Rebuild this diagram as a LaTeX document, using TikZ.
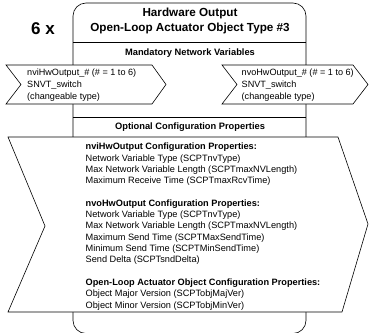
\documentclass[tikz,border=0pt]{standalone}
\usepackage{fontspec}
\setmainfont{Liberation Sans}
\usepackage{tikz}
\usetikzlibrary{shapes,arrows}
\tikzstyle{objbox} = [draw, line width=0.6pt, rounded corners=13pt]
\tikzstyle{hline} = [draw, line width=0.6pt]
\tikzstyle{nvarrow} = [draw, line width=0.6pt, fill=white]
\tikzstyle{objtitle} = [font=\fontsize{11.7}{15}\selectfont\bfseries, align=center, inner sep=0pt]
\tikzstyle{countlabel} = [font=\fontsize{17}{20}\selectfont\bfseries, inner sep=0pt]
\tikzstyle{header} = [font=\fontsize{9.3}{11}\selectfont\bfseries, inner sep=0pt]
\tikzstyle{nvtext} = [font=\fontsize{9.1}{12}\selectfont, align=left, anchor=west, inner sep=0pt]
\tikzstyle{cptext} = [font=\fontsize{9.2}{11.3}\selectfont, align=left, anchor=north west, inner sep=0pt]

\begin{document}
\begin{tikzpicture}[x=1pt, y=-1pt]
    \useasboundingbox (0,0) rectangle (369,332);
    \clip (0,0) rectangle (369,332);
    % Object frame
    \path [objbox] (73,3) rectangle (306,333.5);
    \path [hline] (73,42) -- (306,42);
    \path [hline] (73,117) -- (306,117);
    % Place nodes
    \node [countlabel] (count) at (43,28.5) {6 x};
    \node [objtitle] (title) at (190,21) {Hardware Output\\Open-Loop Actuator Object Type \#3};
    \node [header] (mandatory) at (190,53) {Mandatory Network Variables};
    \node [header] (optional) at (190,127) {Optional Configuration Properties};
    % Network variable arrows
    \path [nvarrow] (6,65) -- (152,65) -- (166,84.5) -- (152,104) -- (6,104) -- (21,84.5) -- cycle;
    \node [nvtext] (nvi) at (27,85) {nviHwOutput\_\# (\# = 1 to 6)\\SNVT\_switch\\(changeable type)};
    \path [nvarrow] (222,65) -- (353,65) -- (368,84.5) -- (353,104) -- (222,104) -- (237,84.5) -- cycle;
    \node [nvtext] (nvo) at (241.5,85) {nvoHwOutput\_\# (\# = 1 to 6)\\SNVT\_switch\\(changeable type)};
    % Configuration properties
    \path [nvarrow] (8,137) -- (338,137) -- (368,224) -- (342,312) -- (8,312) -- (45,226) -- cycle;
    \node [cptext] (props) at (85.5,143) {\textbf{nviHwOutput Configuration Properties:}\\
        Network Variable Type (SCPTnvType)\\
        Max Network Variable Length (SCPTmaxNVLength)\\
        Maximum Receive Time (SCPTmaxRcvTime)\\[11.3pt]
        \textbf{nvoHwOutput Configuration Properties:}\\
        Network Variable Type (SCPTnvType)\\
        Max Network Variable Length (SCPTmaxNVLength)\\
        Maximum Send Time (SCPTMaxSendTime)\\
        Minimum Send Time (SCPTMinSendTime)\\
        Send Delta (SCPTsndDelta)\\[11.3pt]
        \textbf{Open-Loop Actuator Object Configuration Properties:}\\
        Object Major Version (SCPTobjMajVer)\\
        Object Minor Version (SCPTobjMinVer)};
\end{tikzpicture}
\end{document}
